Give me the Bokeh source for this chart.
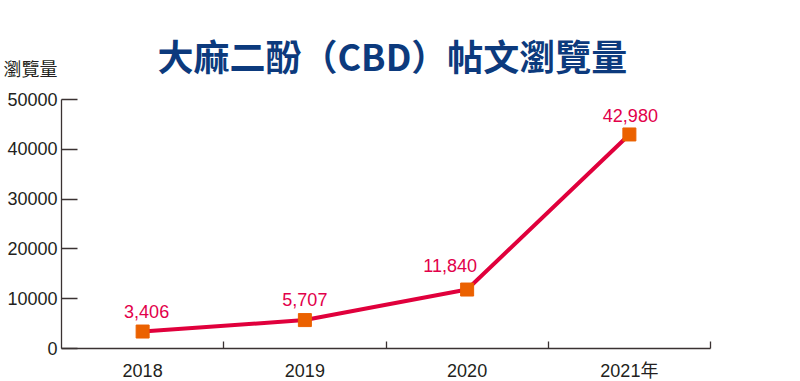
from bokeh.plotting import figure
from bokeh.models import (Range1d, FixedTicker, LabelSet, ColumnDataSource,
                          GlobalInlineStyleSheet)
from bokeh.core.properties import value
from bokeh.embed import file_html
from bokeh.resources import INLINE

years = ["2018", "2019", "2020", "2021年"]
views = [3406, 5707, 11840, 42980]
y_ticks = [0, 10000, 20000, 30000, 40000, 50000]
title_text = "大麻二酚（CBD）帖文瀏覽量"
y_title = "瀏覽量"

# label nudges (screen px) so the 2020 label clears the line
label_dx = [4, 0, -17, 1]
label_dy = [20, 21, 24, 19]

xpos = [i + 0.5 for i in range(len(years))]
src = ColumnDataSource(dict(x=xpos, y=views, lab=[f"{v:,}" for v in views],
                            dx=label_dx, dy=label_dy))

p = figure(width=800, height=381, output_backend="svg", toolbar_location=None,
           x_range=Range1d(0, len(years)), y_range=Range1d(0, y_ticks[-1]),
           frame_width=649, frame_height=249,
           min_border_left=61, min_border_right=90, min_border_top=99, min_border_bottom=10,
           title=title_text)
p.stylesheets = [GlobalInlineStyleSheet(css="body{margin:0 !important;}")]
p.outline_line_color = None
p.xgrid.visible = False
p.ygrid.visible = False
p.background_fill_color = "white"
p.border_fill_color = "white"

p.title.align = "left"
p.title.offset = 96
p.title.text_font = "Noto Sans CJK TC"
p.title.text_font_style = "bold"
p.title.text_font_size = "36px"
p.title.text_color = "#0c3a7d"
p.title.standoff = 38

axis_color = "#3a3232"
label_font = "Liberation Sans, Noto Sans CJK TC"

ya = p.yaxis[0]
ya.ticker = FixedTicker(ticks=y_ticks, minor_ticks=[])
ya.major_label_overrides = {y_ticks[-1]: f"{y_title}\n{y_ticks[-1]}\n\u3000"}
ya.axis_line_color = axis_color
ya.axis_line_width = 1.3
ya.major_tick_line_color = axis_color
ya.major_tick_line_width = 1.3
ya.major_tick_in = 16
ya.major_tick_out = 0
ya.minor_tick_line_color = None
ya.major_label_text_font = label_font
ya.major_label_text_font_size = "18px"
ya.major_label_text_color = "#231f20"
ya.major_label_text_line_height = 1.5
ya.major_label_standoff = 4

xa = p.xaxis[0]
xa.ticker = FixedTicker(ticks=xpos, minor_ticks=[1, 2, 3, 4])
xa.major_label_overrides = {xp: y for xp, y in zip(xpos, years)}
xa.axis_line_color = axis_color
xa.axis_line_width = 1.3
xa.major_tick_line_color = None
xa.minor_tick_line_color = axis_color
xa.minor_tick_line_width = 1.3
xa.minor_tick_in = 7
xa.minor_tick_out = 0
xa.major_label_text_font = label_font
xa.major_label_text_font_size = "18px"
xa.major_label_text_color = "#231f20"
xa.major_label_standoff = 6

p.line("x", "y", source=src, line_color="#e0003c", line_width=4)
p.scatter("x", "y", source=src, marker="square", size=13, fill_color="#eb6100",
          line_color="#eb6100")

p.add_layout(LabelSet(x="x", y="y", text="lab", source=src, x_offset="dx", y_offset="dy",
                      text_align="center", text_baseline="middle",
                      text_font=value(label_font), text_font_size=value("18px"),
                      text_color=value("#e2004a")))

open("out.html", "w").write(file_html(p, INLINE))
